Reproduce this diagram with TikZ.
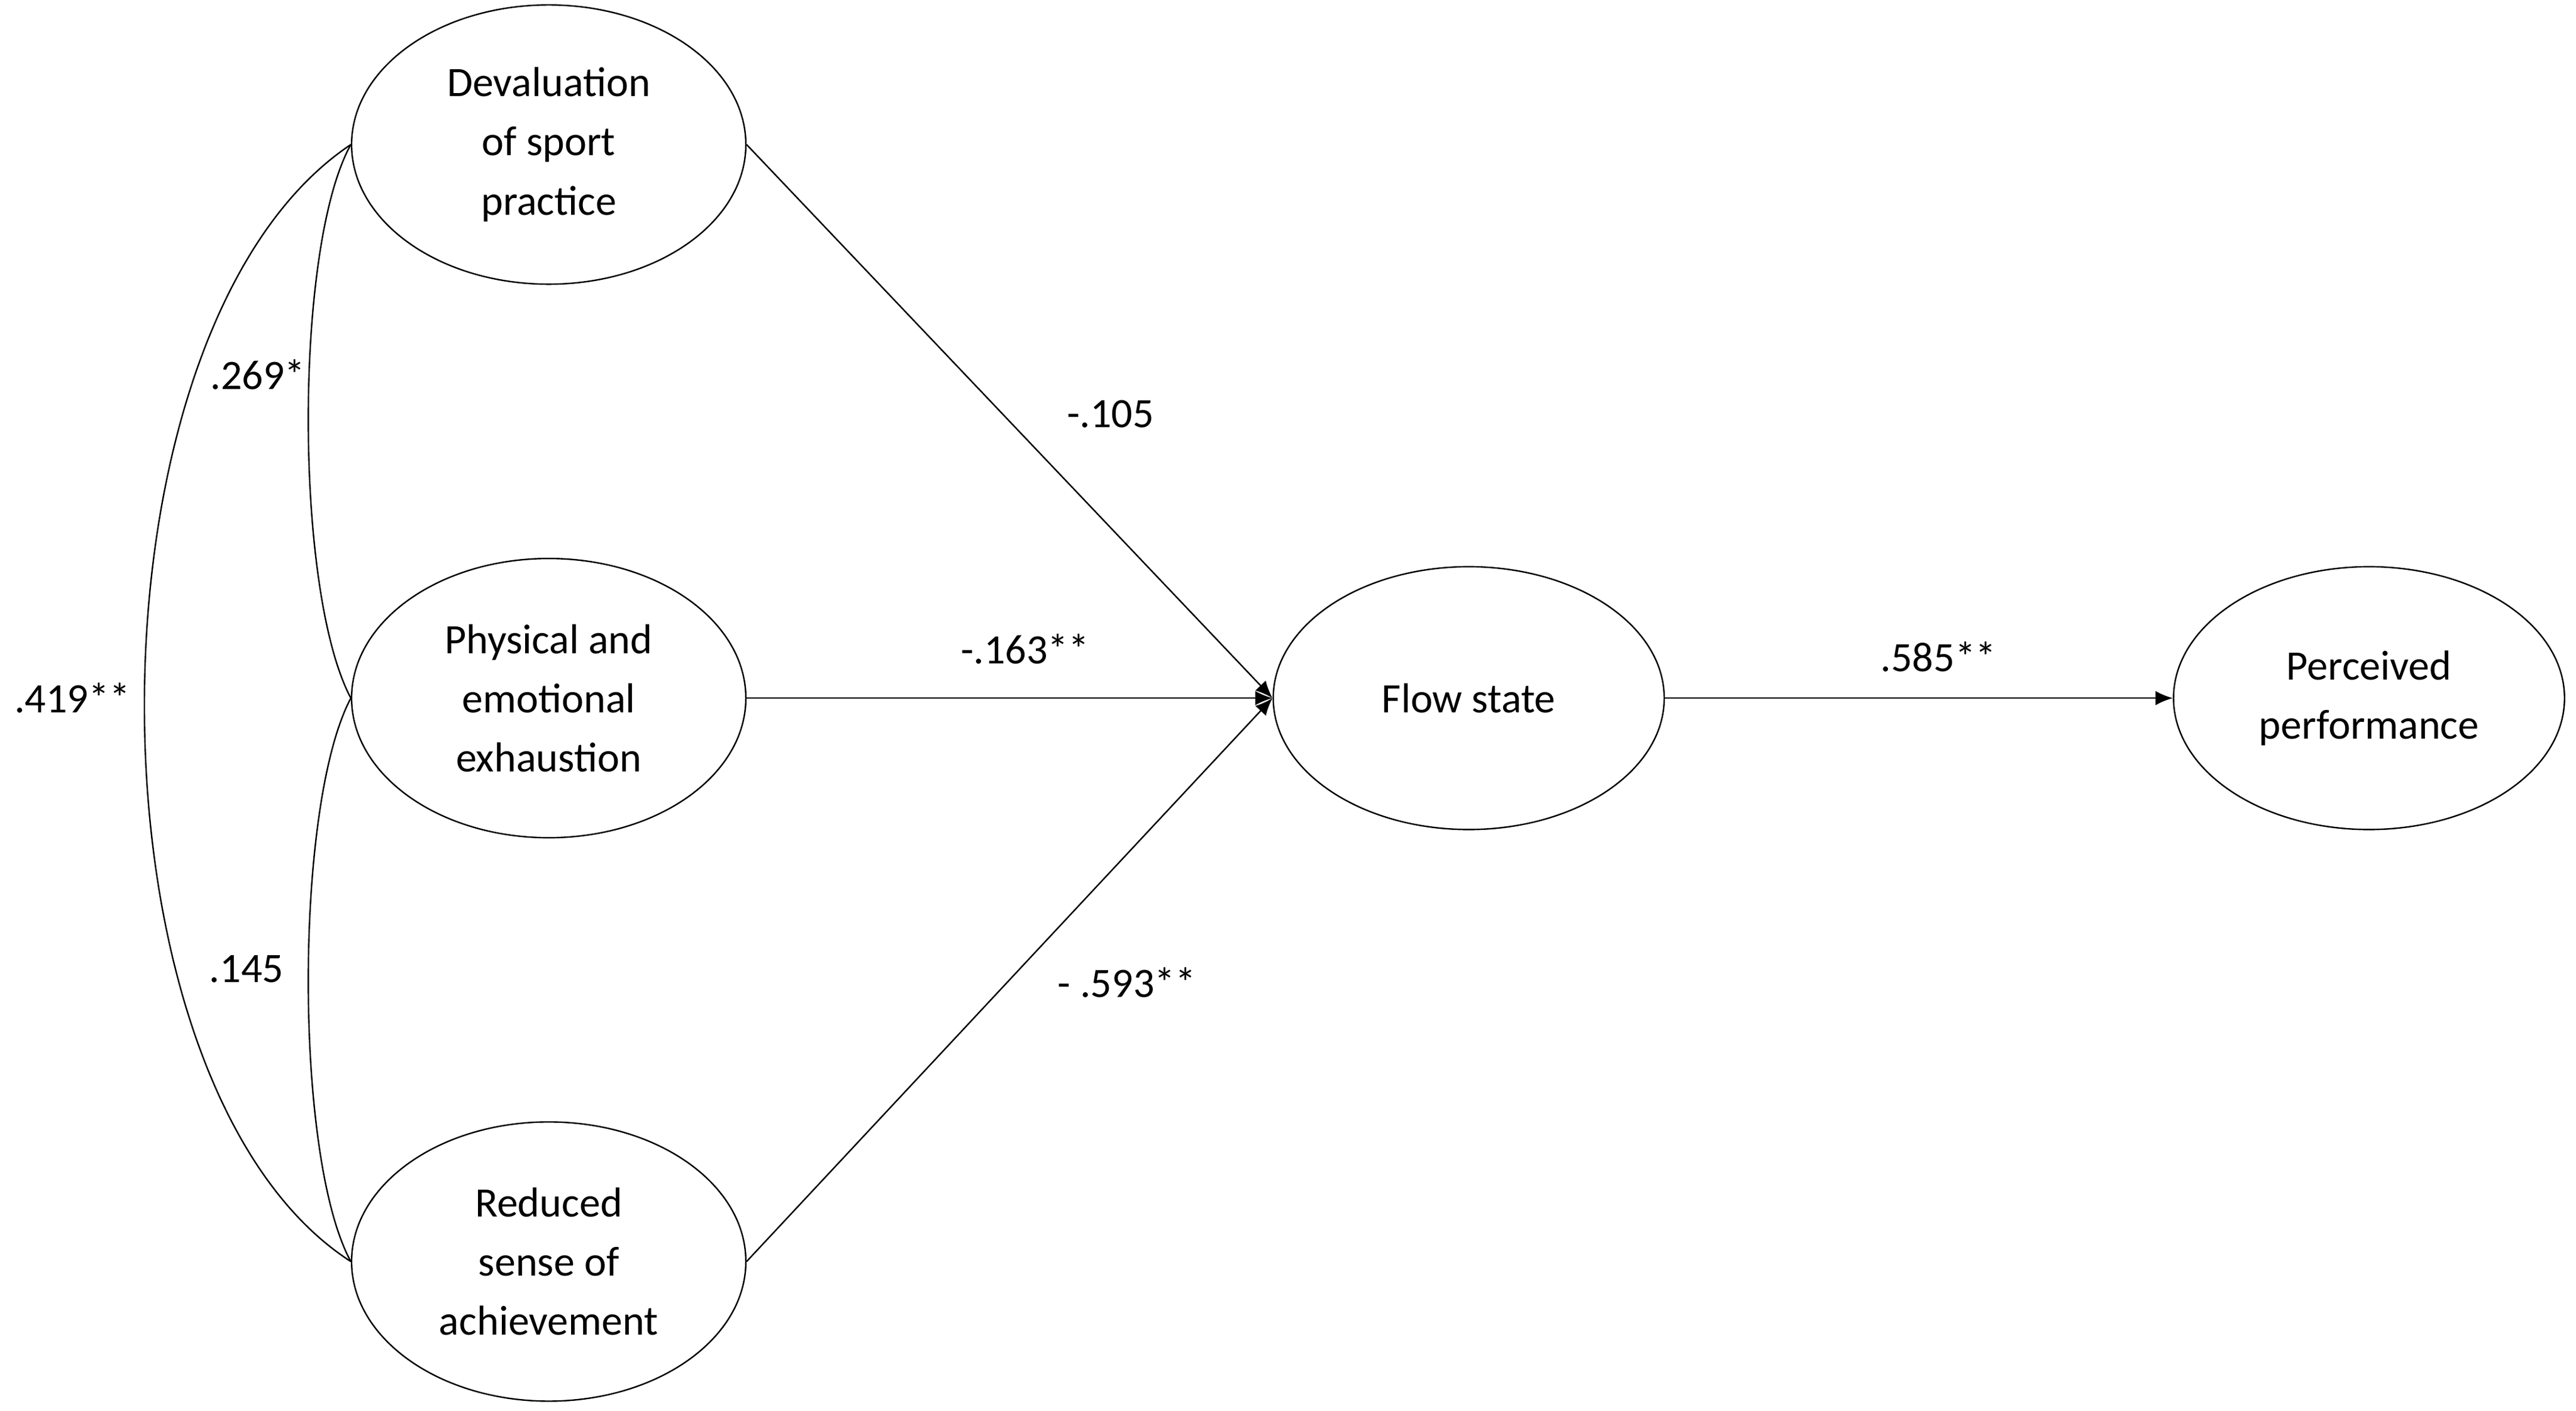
\documentclass[tikz,border=0pt]{standalone}
\usepackage{fontspec}
\setmainfont{Carlito}
\usetikzlibrary{shapes.geometric,arrows.meta}
\begin{document}
\begin{tikzpicture}[x=0.02cm,y=-0.02cm,
  ell/.style={draw,ellipse,minimum width=240*0.02cm,minimum height=170*0.02cm,align=center,font=\fontsize{14.5}{20.5}\selectfont,inner sep=0pt},
  ell2/.style={ell,minimum width=238*0.02cm,minimum height=160*0.02cm},
  lbl/.style={font=\fontsize{14.5}{18}\selectfont},
  arr/.style={-{Latex[length=6pt,width=5pt]}},
  line width=0.5pt]
\useasboundingbox (0,0) rectangle (1568,859);
\node[ell] (dev) at (334,88) {Devaluation\\of sport\\practice};
\node[ell] (phy) at (334,425) {Physical and\\emotional\\exhaustion};
\node[ell] (red) at (334,768) {Reduced\\sense of\\achievement};
\node[ell2] (flow) at (894,425) {Flow state};
\node[ell2] (perf) at (1442,425) {Perceived\\performance};
\draw[arr] (dev.east) -- (flow.west);
\draw[arr] (phy.east) -- (flow.west);
\draw[arr] (red.east) -- (flow.west);
\draw[arr] (flow.east) -- (perf.west);
\draw (dev.west) .. controls (179,150) and (179,360) .. (phy.west);
\draw (phy.west) .. controls (179,490) and (179,705) .. (red.west);
\draw (dev.west) .. controls (46,200) and (46,660) .. (red.west);
\node[lbl] (l1) at (157,228) {.269*};
\node[lbl] (l2) at (150,590) {.145};
\node[lbl] (l3) at (44,425) {.419**};
\node[lbl] (l4) at (676,252) {-.105};
\node[lbl] (l5) at (624,395) {-.163**};
\node[lbl] (l6) at (686,598) {- .593**};
\node[lbl] (l7) at (1180,400) {.585**};
\end{tikzpicture}
\end{document}
